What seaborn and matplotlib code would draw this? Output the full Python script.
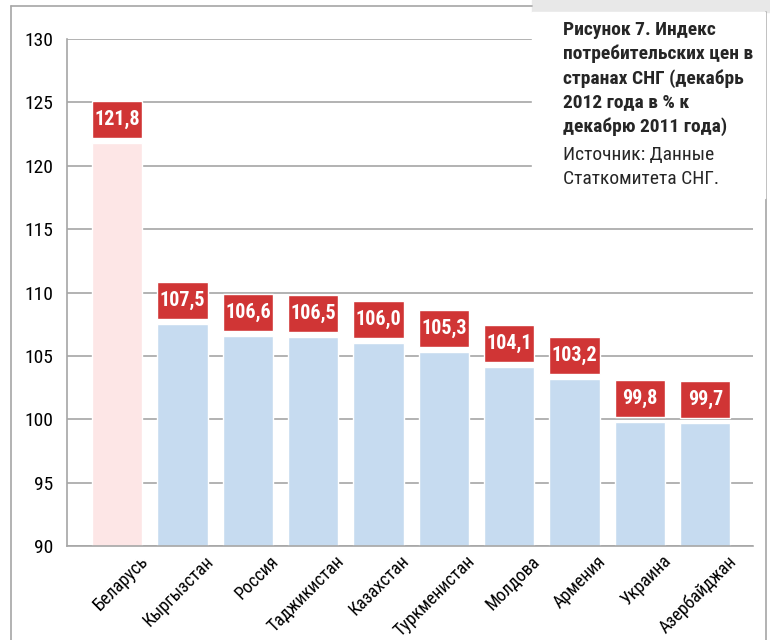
import pandas as pd
import matplotlib.pyplot as plt
import matplotlib.patches as mpatches
import matplotlib.transforms as mtransforms
import matplotlib.font_manager as fm
import seaborn as sns

# Данные: индекс потребительских цен, декабрь 2012 к декабрю 2011, %
countries = ['Беларусь', 'Кыргызстан', 'Россия', 'Таджикистан', 'Казахстан',
             'Туркменистан', 'Молдова', 'Армения', 'Украина', 'Азербайджан']
cpi = [121.8, 107.5, 106.6, 106.5, 106.0, 105.3, 104.1, 103.2, 99.8, 99.7]
value_labels = ['121,8', '107,5', '106,6', '106,5', '106,0',
                '105,3', '104,1', '103,2', '99,8', '99,7']
y_ticks = [90, 95, 100, 105, 110, 115, 120, 125, 130]

title_bold = ('Рисунок 7. Индекс\nпотребительских цен в\nстранах СНГ (декабрь\n'
              '2012 года в % к\nдекабрю 2011 года)')
title_source = 'Источник: Данные\nСтаткомитета СНГ.'

sns.set_theme(style='white')

# Ищем узкий шрифт (в оригинале Myriad Condensed)
def is_narrow(f):
    st = f.stretch
    if isinstance(st, str):
        return 'condensed' in st
    return st < 500

narrow = [f.name for f in fm.fontManager.ttflist
          if 'Narrow' in f.name or 'Condensed' in f.name or is_narrow(f)]
family = 'DejaVu Sans'
scale = 0.85
for cand in ['Liberation Sans Narrow', 'Roboto Condensed', 'Open Sans Condensed',
             'Noto Sans', 'DejaVu Sans Condensed', 'DejaVu Sans']:
    if cand in narrow:
        family = cand
        scale = 1.0
        break
plt.rcParams['font.family'] = [family, 'DejaVu Sans']
plt.rcParams['font.stretch'] = 'condensed'

df = pd.DataFrame({'country': countries, 'cpi': cpi})
df['group'] = ['lead'] + ['other'] * (len(countries) - 1)

fig = plt.figure(figsize=(7.7, 6.4), dpi=100)
ax = fig.add_axes([67 / 770, 1 - 546 / 640, (753 - 67) / 770, (546 - 39) / 640])

# Основные столбики от базового уровня 90
base = 90
df['height'] = df['cpi'] - base
sns.barplot(data=df, x='country', y='height', hue='group', bottom=base,
            palette={'lead': '#fde6e6', 'other': '#c6dbf0'},
            width=0.77, legend=False, ax=ax, saturation=1)

# Красные плашки с подписями над столбиками
box_gap, box_h = 0.4, 2.9
pos = list(range(len(countries)))
ax.bar(pos, [box_h] * len(pos), bottom=[v + box_gap for v in cpi],
       width=0.77, color='#d03535', zorder=3)
for i, (v, lab) in enumerate(zip(cpi, value_labels)):
    ax.text(i, v + box_gap + box_h / 2, lab, ha='center', va='center',
            color='white', fontsize=14.5 * scale, fontweight='bold', zorder=4)

ax.set_ylim(90, 130)
ax.set_xlim(-0.77, len(countries) - 1 + 0.73)
ax.set_yticks(y_ticks)
ax.set_yticklabels([str(t) for t in y_ticks], fontsize=14 * scale)
ax.set_xticks(pos)
ax.set_xticklabels(countries, rotation=45, ha='right', va='center',
                   rotation_mode='anchor', fontsize=13 * scale)
ax.tick_params(axis='y', length=0, pad=10, colors='black')
ax.tick_params(axis='x', length=0, pad=9, colors='black')
shift = mtransforms.ScaledTranslation(28 / 100, 0, fig.dpi_scale_trans)
for lab in ax.get_xticklabels():
    lab.set_transform(lab.get_transform() + shift)
ax.set_xlabel('')
ax.set_ylabel('')
ax.yaxis.grid(True, color='#a6a6a6', linewidth=1.2)
ax.set_axisbelow(True)
for side in ['top', 'right']:
    ax.spines[side].set_visible(False)
for side in ['left', 'bottom']:
    ax.spines[side].set_color('#a6a6a6')
    ax.spines[side].set_linewidth(1.2)

# Рамка страницы и серый фон в правом верхнем углу
fig.add_artist(mpatches.Rectangle((532 / 770, 1 - 12 / 640), 238 / 770, 12 / 640,
                                  transform=fig.transFigure, color='#e8e8e8',
                                  zorder=0))
fig.add_artist(plt.Line2D([11 / 770, 11 / 770], [0, 1 - 6 / 640],
                          transform=fig.transFigure, color='#a6a6a6', lw=1.2))
fig.add_artist(plt.Line2D([11 / 770, 532 / 770], [1 - 6 / 640, 1 - 6 / 640],
                          transform=fig.transFigure, color='#a6a6a6', lw=1.2))
fig.add_artist(plt.Line2D([766 / 770, 766 / 770], [0, 1 - 12 / 640],
                          transform=fig.transFigure, color='#a6a6a6', lw=1.2))

# Белая плашка с заголовком поверх сетки
fig.add_artist(mpatches.Rectangle((532 / 770, 1 - 198 / 640), 233 / 770, 186 / 640,
                                  transform=fig.transFigure, color='white',
                                  zorder=5))
fig.text(563 / 770, 1 - 21 / 640, title_bold, ha='left', va='top',
         fontsize=14 * scale, fontweight='bold', linespacing=1.4, zorder=6)
fig.text(563 / 770, 1 - 146 / 640, title_source, ha='left', va='top',
         fontsize=14 * scale, linespacing=1.4, zorder=6)

plt.savefig('out.png', dpi=100)
plt.close()
